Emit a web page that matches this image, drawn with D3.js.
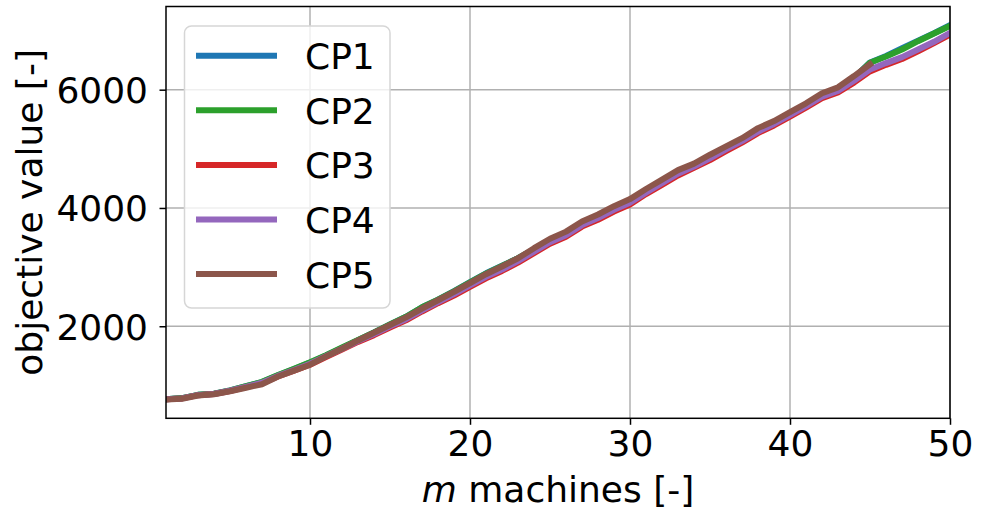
<!DOCTYPE html>
<html>
<head>
<meta charset="utf-8">
<script src="https://cdn.jsdelivr.net/npm/d3@7"></script>
<style>
  html, body { margin: 0; padding: 0; background: #fff; }
  svg { display: block; font-family: "DejaVu Sans", sans-serif; }
</style>
</head>
<body>
<svg id="chart" width="981" height="515"></svg>
<script>
// machine counts
const machines = d3.range(1, 51);
const machinesCP5 = d3.range(1, 46);

// objective values per configuration
const cp1 = [765, 785, 840, 860, 915, 985, 1055, 1170, 1275, 1385,
             1505, 1635, 1765, 1895, 2030, 2160, 2320, 2450, 2595, 2745,
             2895, 3025, 3150, 3300, 3450, 3570, 3725, 3855, 3985, 4105,
             4275, 4435, 4595, 4715, 4855, 5005, 5145, 5305, 5435, 5585,
             5735, 5895, 6015, 6200, 6460, 6570, 6700, 6830, 6955, 7090];
const cp2 = [765, 785, 840, 860, 915, 985, 1060, 1175, 1280, 1390,
             1510, 1640, 1770, 1895, 2030, 2160, 2320, 2450, 2590, 2740,
             2890, 3020, 3150, 3300, 3450, 3570, 3730, 3860, 3990, 4110,
             4280, 4440, 4600, 4720, 4860, 5010, 5150, 5310, 5440, 5590,
             5740, 5900, 6020, 6200, 6455, 6560, 6680, 6820, 6950, 7080];
const cp3 = [765, 780, 835, 855, 905, 970, 1035, 1150, 1250, 1350,
             1480, 1605, 1735, 1850, 1980, 2100, 2250, 2390, 2520, 2665,
             2810, 2935, 3075, 3235, 3395, 3515, 3685, 3800, 3940, 4060,
             4235, 4390, 4550, 4680, 4810, 4960, 5105, 5265, 5395, 5545,
             5695, 5855, 5955, 6120, 6310, 6420, 6520, 6650, 6790, 6930];
const cp4 = [765, 780, 835, 855, 910, 975, 1045, 1160, 1260, 1365,
             1495, 1620, 1750, 1870, 2000, 2120, 2270, 2410, 2545, 2690,
             2835, 2960, 3100, 3260, 3420, 3540, 3710, 3830, 3970, 4090,
             4260, 4420, 4580, 4700, 4840, 4990, 5130, 5290, 5420, 5570,
             5720, 5880, 5980, 6150, 6340, 6450, 6550, 6680, 6810, 6960];
const cp5 = [760, 775, 830, 850, 900, 960, 1020, 1150, 1250, 1350,
             1490, 1620, 1760, 1890, 2020, 2150, 2300, 2440, 2580, 2730,
             2880, 3010, 3150, 3320, 3480, 3600, 3770, 3890, 4030, 4150,
             4320, 4480, 4640, 4750, 4900, 5040, 5180, 5350, 5470, 5620,
             5770, 5940, 6040, 6230, 6430];

const seriesNames = ["CP1", "CP2", "CP3", "CP4", "CP5"];
const seriesColors = ["#1f77b4", "#2ca02c", "#d62728", "#9467bd", "#8c564b"];
const xTicks = [10, 20, 30, 40, 50];
const yTicks = [2000, 4000, 6000];

const series = [
  { name: seriesNames[0], xs: machines, ys: cp1, color: seriesColors[0] },
  { name: seriesNames[1], xs: machines, ys: cp2, color: seriesColors[1] },
  { name: seriesNames[2], xs: machines, ys: cp3, color: seriesColors[2] },
  { name: seriesNames[3], xs: machines, ys: cp4, color: seriesColors[3] },
  { name: seriesNames[4], xs: machinesCP5, ys: cp5, color: seriesColors[4] }
];

const plot = { left: 166, right: 950, top: 6.5, bottom: 418.3 };
const svg = d3.select("#chart");
const fontSize = 36;

// y limits with a 5% margin around the data
const allY = series.flatMap(s => s.ys);
const yMin = d3.min(allY), yMax = d3.max(allY);
const pad = (yMax - yMin) * 0.05;

const x = d3.scaleLinear().domain([1, 50]).range([plot.left, plot.right]);
const y = d3.scaleLinear().domain([yMin - pad, yMax + pad]).range([plot.bottom, plot.top]);

// grid
const grid = svg.append("g").attr("stroke", "#b0b0b0").attr("stroke-width", 1.5);
grid.selectAll(".gx").data(xTicks).join("line")
  .attr("x1", d => x(d)).attr("x2", d => x(d))
  .attr("y1", plot.top).attr("y2", plot.bottom);
grid.selectAll(".gy").data(yTicks).join("line")
  .attr("x1", plot.left).attr("x2", plot.right)
  .attr("y1", d => y(d)).attr("y2", d => y(d));

// lines
svg.append("clipPath").attr("id", "plotclip").append("rect")
  .attr("x", plot.left).attr("y", plot.top)
  .attr("width", plot.right - plot.left).attr("height", plot.bottom - plot.top);

const line = d3.line().x(d => x(d[0])).y(d => y(d[1]));
svg.append("g").attr("clip-path", "url(#plotclip)")
  .selectAll("path").data(series).join("path")
  .attr("d", s => line(s.xs.map((m, i) => [m, s.ys[i]])))
  .attr("fill", "none")
  .attr("stroke", s => s.color)
  .attr("stroke-width", 6)
  .attr("stroke-linejoin", "round")
  .attr("stroke-linecap", "square");

// axes
const fmt = d3.format("d");
const xAxis = d3.axisBottom(x).tickValues(xTicks).tickFormat(fmt).tickSize(6.5).tickSizeOuter(0).tickPadding(5);
const yAxis = d3.axisLeft(y).tickValues(yTicks).tickFormat(fmt).tickSize(6.5).tickSizeOuter(0).tickPadding(5);

const gx = svg.append("g").attr("transform", `translate(0,${plot.bottom})`).call(xAxis);
gx.select(".domain").remove();
gx.selectAll(".tick line").attr("stroke", "#000").attr("stroke-width", 1.5);
gx.selectAll(".tick text")
  .attr("font-size", fontSize).attr("font-family", "DejaVu Sans")
  .attr("fill", "#000").attr("dy", null).attr("y", 37.5);

const gy = svg.append("g").attr("transform", `translate(${plot.left},0)`).call(yAxis);
gy.select(".domain").remove();
gy.selectAll(".tick line").attr("stroke", "#000").attr("stroke-width", 1.5);
gy.selectAll(".tick text")
  .attr("font-size", fontSize).attr("font-family", "DejaVu Sans")
  .attr("fill", "#000").attr("dy", null).attr("x", -18).attr("y", 13);

// frame
svg.append("rect")
  .attr("x", plot.left).attr("y", plot.top)
  .attr("width", plot.right - plot.left).attr("height", plot.bottom - plot.top)
  .attr("fill", "none").attr("stroke", "#000").attr("stroke-width", 1.5);

// axis titles
const xt = svg.append("text")
  .attr("x", (plot.left + plot.right) / 2).attr("y", 502)
  .attr("text-anchor", "middle").attr("font-size", fontSize).attr("fill", "#000");
xt.append("tspan").attr("font-style", "italic").text("m");
xt.append("tspan").text(" machines [-]");

svg.append("text")
  .attr("transform", `translate(42,${(plot.top + plot.bottom) / 2}) rotate(-90)`)
  .attr("text-anchor", "middle").attr("font-size", fontSize).attr("fill", "#000")
  .text("objective value [-]");

// legend
const lg = svg.append("g");
lg.append("rect")
  .attr("x", 184.5).attr("y", 26).attr("width", 205.5).attr("height", 282)
  .attr("rx", 7).attr("ry", 7)
  .attr("fill", "#fff").attr("fill-opacity", 0.8)
  .attr("stroke", "#d6d6d6").attr("stroke-width", 1.5);
const rows = lg.selectAll("g.row").data(series).join("g")
  .attr("transform", (d, i) => `translate(0,${55.7 + i * 54.6})`);
rows.append("line")
  .attr("x1", 196).attr("x2", 277).attr("y1", 0).attr("y2", 0)
  .attr("stroke", d => d.color).attr("stroke-width", 6);
rows.append("text")
  .attr("x", 305).attr("y", 13.5)
  .attr("font-size", fontSize).attr("fill", "#000")
  .text(d => d.name);
</script>
</body>
</html>
